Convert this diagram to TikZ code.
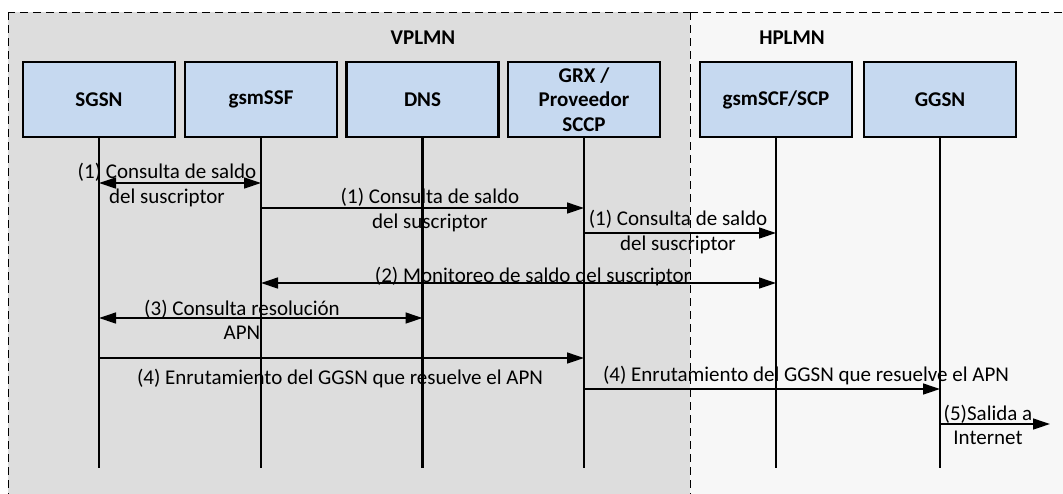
\documentclass[tikz,border=0pt]{standalone}
\usepackage{fontspec}
\setmainfont{Carlito}
\usetikzlibrary{arrows.meta}
\definecolor{boxblue}{RGB}{198,217,240}
\definecolor{vgrey}{RGB}{221,221,221}
\definecolor{hgrey}{RGB}{247,247,247}
\begin{document}
\begin{tikzpicture}[x=1pt,y=-1pt,
  entity/.style={draw=black, line width=2.4pt, fill=boxblue, minimum width=152pt, minimum height=75pt, font=\fontsize{21}{24.5}\selectfont\bfseries, align=center, inner sep=0pt},
  life/.style={line width=2.4pt},
  msg/.style={line width=1.3pt, -{Triangle[length=17pt,width=11pt]}},
  dmsg/.style={line width=1.3pt, {Triangle[length=17pt,width=11pt]}-{Triangle[length=17pt,width=11pt]}},
  lbl/.style={font=\fontsize{21}{24.5}\selectfont, align=center, inner sep=0pt},
  title/.style={font=\fontsize{21}{24}\selectfont\bfseries, inner sep=0pt},
  region/.style={draw=black, line width=1pt, dash pattern=on 8pt off 5pt}]
\useasboundingbox (0,0) rectangle (1063,493);
\draw[region, fill=vgrey] (8,12) rectangle (690,510);
\draw[region, fill=hgrey] (690,12) rectangle (1080,510);
\node[title] (vplmn) at (423,38) {VPLMN};
\node[title] (hplmn) at (792,38) {HPLMN};
% entities
\node[entity] (sgsn) at (99,99.5) {SGSN};
\node[entity] (ssf) at (261,99.5) {gsmSSF};
\node[entity] (dns) at (422.5,99.5) {DNS};
\node[entity] (grx) at (584,99.5) {GRX /\\Proveedor\\SCCP};
\node[entity] (scf) at (776,99.5) {gsmSCF/SCP};
\node[entity] (ggsn) at (940,99.5) {GGSN};
% lifeline ends
\coordinate (sgsnE) at (99,468);
\coordinate (ssfE) at (261,468);
\coordinate (dnsE) at (422.5,468);
\coordinate (grxE) at (584,468);
\coordinate (scfE) at (776,468);
\coordinate (ggsnE) at (940,468);
\foreach \a/\b in {sgsn/sgsnE,ssf/ssfE,dns/dnsE,grx/grxE,scf/scfE,ggsn/ggsnE}
  \draw[life] (\a.south) -- (\b);
% message rows
\coordinate (r1) at (0,183);
\coordinate (r2) at (0,208);
\coordinate (r3) at (0,233);
\coordinate (r4) at (0,283);
\coordinate (r5) at (0,318);
\coordinate (r6) at (0,358);
\coordinate (r7) at (0,389);
\coordinate (r8) at (0,424);
\coordinate (out) at (1050,424);
% messages
\draw[dmsg] (sgsn |- r1) -- (ssf |- r1);
\draw[msg] (ssf |- r2) -- (grx |- r2);
\draw[msg] (grx |- r3) -- (scf |- r3);
\draw[dmsg] (ssf |- r4) -- (scf |- r4);
\draw[dmsg] (sgsn |- r5) -- (dns |- r5);
\draw[msg] (sgsn |- r6) -- (grx |- r6);
\draw[msg] (grx |- r7) -- (ggsn |- r7);
\draw[msg] (ggsn |- r8) -- (out);
% labels
\node[lbl] (l1) at (167,185) {(1) Consulta de saldo\\del suscriptor};
\node[lbl] (l2) at (430,210) {(1) Consulta de saldo\\del suscriptor};
\node[lbl] (l3) at (678,232) {(1) Consulta de saldo\\del suscriptor};
\node[lbl] (l4) at (533,277) {(2) Monitoreo de saldo del suscriptor};
\node[lbl] (l5) at (242,320) {(3) Consulta resolución\\APN};
\node[lbl] (l6) at (340,379) {(4) Enrutamiento del GGSN que resuelve el APN};
\node[lbl] (l7) at (806,376) {(4) Enrutamiento del GGSN que resuelve el APN};
\node[lbl] (l8) at (988,425) {(5)Salida a\\Internet};
\end{tikzpicture}
\end{document}
